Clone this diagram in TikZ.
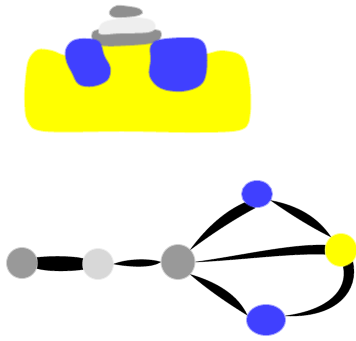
\documentclass[tikz,border=0pt]{standalone}
\usetikzlibrary{shapes.geometric,backgrounds}
\definecolor{paintblue}{RGB}{64,64,255}
\definecolor{paintyellow}{RGB}{255,255,0}
\definecolor{midgray}{RGB}{153,153,153}
\definecolor{palegray}{RGB}{216,216,216}
\definecolor{slate}{RGB}{143,143,143}
\definecolor{mist}{RGB}{238,238,238}
\begin{document}
\begin{tikzpicture}[x=1pt,y=-1pt,
  paint/.style={fill=#1, draw=#1, line width=2pt, draw opacity=0.45},
  blob/.style={ellipse, inner sep=0pt, paint=#1},
  ink/.style={fill=black, draw=black, line width=0.8pt, draw opacity=0.5}]
\useasboundingbox (0,0) rectangle (356,340);

% ---- upper scene: yellow base with two blue shapes and grey cap ----
\path[paint=paintyellow] plot[smooth cycle, tension=0.55] coordinates {
  (26,78) (29,60) (38,50) (52,51) (70,56) (105,44) (150,42) (200,54)
  (222,51) (242,57) (249,80) (250,112) (242,129) (200,132) (125,131)
  (45,131) (28,121) (25,100)};
\path[paint=slate] plot[smooth cycle, tension=0.6] coordinates {
  (92,36) (98,30) (125,29) (155,30) (161,34) (155,42) (130,45) (100,45)};
\path[paint=mist] plot[smooth cycle, tension=0.6] coordinates {
  (99,30) (105,22) (130,18) (150,20) (155,27) (148,32) (120,33) (102,34)};
\path[paint=slate] plot[smooth cycle, tension=0.6] coordinates {
  (111,10) (117,6) (130,7) (139,9) (142,13) (134,16) (116,17) (110,14)};
\path[paint=paintblue] plot[smooth cycle, tension=0.6] coordinates {
  (66,50) (73,41) (86,39) (99,42) (104,56) (110,68) (107,80)
  (93,86) (79,84) (72,72) (67,62)};
\path[paint=paintblue] plot[smooth cycle, tension=0.6] coordinates {
  (151,46) (160,40) (185,38) (200,40) (206,50) (206,72) (200,85)
  (182,91) (161,88) (150,76) (151,60)};

% ---- lower graph ----
\node[blob=midgray,  minimum width=30pt, minimum height=30pt] (g1) at (22,263) {};
\node[blob=palegray, minimum width=30pt, minimum height=30pt] (lg) at (98,264) {};
\node[blob=midgray,  minimum width=33pt, minimum height=34pt] (g2) at (178,262) {};
\node[blob=paintblue,  minimum width=30pt, minimum height=26pt] (b1) at (257,194) {};
\node[blob=paintyellow,minimum width=31pt, minimum height=32pt] (y)  at (341,250) {};
\node[blob=paintblue,  minimum width=38pt, minimum height=30pt] (b2) at (266,320) {};

\begin{pgfonlayer}{background}
  % thick bar between the two left dots
  \path[ink] (g1.20) .. controls (50,256) and (72,256) .. (lg.160)
    .. controls (lg.180) and (lg.190) .. (lg.200)
    .. controls (72,271) and (50,272) .. (g1.-20)
    .. controls (g1.-5) and (g1.5) .. (g1.20) -- cycle;
  % thin lens
  \path[ink] (lg.east) .. controls (130,258) and (152,259) .. (g2.west)
    .. controls (152,268) and (130,267) .. (lg.east) -- cycle;
  % long spoke to the yellow dot
  \path[ink] (g2.east) .. controls (240,260) and (290,253) .. (y.195)
    .. controls (y.180) and (y.170) .. (y.163)
    .. controls (290,244) and (240,256) .. (g2.east) -- cycle;
  % spoke up to the top blue dot
  \path[ink] (g2.45) .. controls (208,226) and (226,211) .. (b1.215)
    -- (b1.262) .. controls (236,218) and (214,232) .. (g2.45) -- cycle;
  % arc from the top blue dot to the yellow dot
  \path[ink] (b1.-25) .. controls (299,206) and (318,218) .. (y.128)
    .. controls (313,228) and (293,216) .. (b1.-25) -- cycle;
  % spoke down to the bottom blue dot
  \path[ink] (g2.-45) .. controls (211,292) and (231,305) .. (b2.165)
    .. controls (238,296) and (219,283) .. (g2.-45) -- cycle;
  % arc from the yellow dot down to the bottom blue dot
  \path[ink] (y.-45) .. controls (359,290) and (338,318) .. (b2.12)
    .. controls (329,310) and (348,290) .. (y.-82) -- cycle;
\end{pgfonlayer}
\end{tikzpicture}
\end{document}
